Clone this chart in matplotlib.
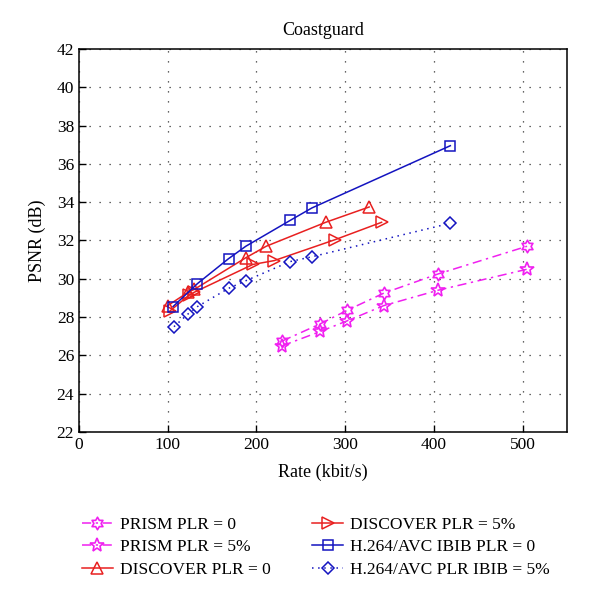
import numpy as np
import matplotlib
matplotlib.use('Agg')
import matplotlib.pyplot as plt
from matplotlib.path import Path

plt.rcParams.update({
    'font.family': ['Liberation Serif', 'DejaVu Serif'],
    'font.size': 12,
    'xtick.direction': 'in', 'ytick.direction': 'in',
})

COL_MAG = '#f020f0'; COL_RED = '#e82020'; COL_BLUE = '#1414c0'

# data
prism_x = [229, 272, 302, 343.5, 404.5, 505]
prism0_y = [26.75, 27.65, 28.35, 29.25, 30.25, 31.7]
prism5_y = [26.5, 27.25, 27.8, 28.6, 29.4, 30.5]

disc0_x = [100, 123, 130, 188, 211, 278, 327]
disc0_y = [28.6, 29.3, 29.45, 31.1, 31.7, 32.95, 33.75]
disc5_x = [102, 124, 130, 196, 220, 289, 341]
disc5_y = [28.3, 29.15, 29.3, 30.75, 30.95, 32.05, 32.95]

h264_0_x = [106, 133.5, 168.5, 188, 238, 262.5, 418.5]
h264_0_y = [28.55, 29.75, 31.05, 31.7, 33.05, 33.7, 36.95]
h264_5_x = [107, 122.5, 133.5, 168.5, 188, 238, 262.5, 418.5]
h264_5_y = [27.5, 28.15, 28.55, 29.5, 29.9, 30.9, 31.15, 32.9]

# six-pointed star marker (MATLAB hexagram)
ang = np.pi/2 + np.arange(12)*np.pi/6
rad = np.where(np.arange(12) % 2 == 0, 1.0, 1/np.sqrt(3))
verts = np.column_stack([rad*np.cos(ang), rad*np.sin(ang)])
verts = np.vstack([verts, verts[:1]])
hexagram = Path(verts, [Path.MOVETO] + [Path.LINETO]*11 + [Path.CLOSEPOLY])

fig = plt.figure(figsize=(6.0, 6.02), dpi=100)
ax = fig.add_axes([0.1317, 0.2824, 0.8133, 0.6362])

dashdot = (0, (6, 3, 1.5, 3))
ax.plot(prism_x, prism0_y, color=COL_MAG, ls=dashdot, lw=1.1,
        marker=hexagram, ms=9, mfc='none', mew=1.2, label='PRISM PLR = 0')
ax.plot(prism_x, prism5_y, color=COL_MAG, ls=dashdot, lw=1.1,
        marker='*', ms=10, mfc='none', mew=1.2, label='PRISM PLR = 5%')
ax.plot(disc0_x, disc0_y, color=COL_RED, ls='-', lw=1.1,
        marker='^', ms=8, mfc='none', mew=1.1, label='DISCOVER PLR = 0')
ax.plot(disc5_x, disc5_y, color=COL_RED, ls='-', lw=1.1,
        marker='>', ms=8, mfc='none', mew=1.1, label='DISCOVER PLR = 5%')
ax.plot(h264_0_x, h264_0_y, color=COL_BLUE, ls='-', lw=1.1,
        marker='s', ms=6.5, mfc='none', mew=1.1, label='H.264/AVC IBIB PLR = 0')
ax.plot(h264_5_x, h264_5_y, color=COL_BLUE, ls=(0, (1, 3)), lw=1.1,
        marker='D', ms=6.5, mfc='none', mew=1.1, label='H.264/AVC PLR IBIB = 5%')

ax.set_xlim(0, 550)
ax.set_ylim(22, 42)
ax.set_xticks([0, 100, 200, 300, 400, 500])
ax.set_yticks(np.arange(22, 43, 2))
ax.grid(True, color='#333333', ls=(0, (1, 7)), lw=0.9)
ax.tick_params(length=5, width=1, top=False, right=False, labelsize=12.5)
for s in ax.spines.values():
    s.set_linewidth(1.1)

ax.set_title('Coastguard', fontsize=13, pad=10)
ax.set_xlabel('Rate (kbit/s)', fontsize=13, labelpad=8)
ax.set_ylabel('PSNR (dB)', fontsize=13, labelpad=8)

fig.legend(loc='upper left', bbox_to_anchor=(0.11, 0.168), ncol=2,
           frameon=False, fontsize=12.5, handlelength=1.8,
           columnspacing=2.4, labelspacing=0.38, handletextpad=0.4)

fig.savefig('out.png', dpi=100, facecolor='white')
